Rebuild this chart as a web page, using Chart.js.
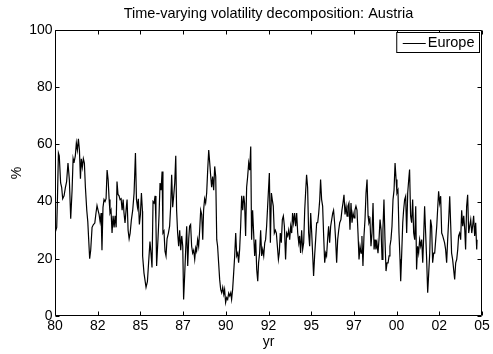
<!DOCTYPE html>
<html>
<head>
<meta charset="utf-8">
<script src="https://cdn.jsdelivr.net/npm/chart.js@4/dist/chart.umd.min.js"></script>
<style>
  html, body { margin: 0; padding: 0; background: #fff; }
  #wrap { width: 493px; height: 354px; }
</style>
</head>
<body>
<div id="wrap"><canvas id="chart" width="493" height="354"></canvas></div>
<script>
// decimal years and volatility share (%)
const dates = [
  1980.00, 1980.10, 1980.14, 1980.20, 1980.25, 1980.33, 1980.39, 1980.45, 1980.53, 1980.61,
  1980.68, 1980.76, 1980.84, 1980.92, 1981.00, 1981.06, 1981.11, 1981.19, 1981.25, 1981.31,
  1981.37, 1981.43, 1981.49, 1981.54, 1981.60, 1981.66, 1981.72, 1981.78, 1981.86, 1981.92,
  1981.97, 1982.03, 1982.09, 1982.17, 1982.25, 1982.33, 1982.40, 1982.46, 1982.52, 1982.58,
  1982.64, 1982.70, 1982.75, 1982.81, 1982.87, 1982.93, 1982.99, 1983.05, 1983.11, 1983.17,
  1983.22, 1983.28, 1983.34, 1983.40, 1983.46, 1983.52, 1983.58, 1983.63, 1983.69, 1983.75,
  1983.81, 1983.87, 1983.93, 1983.99, 1984.04, 1984.10, 1984.16, 1984.22, 1984.28, 1984.34,
  1984.40, 1984.47, 1984.55, 1984.63, 1984.71, 1984.77, 1984.83, 1984.88, 1984.94, 1985.00,
  1985.06, 1985.12,
  1985.13, 1985.21, 1985.33, 1985.41, 1985.48, 1985.56, 1985.62, 1985.68, 1985.74, 1985.80,
  1985.86, 1985.91, 1985.95, 1986.03, 1986.09, 1986.15, 1986.21, 1986.27, 1986.32, 1986.38,
  1986.44, 1986.50, 1986.56, 1986.64, 1986.71, 1986.77, 1986.83, 1986.89, 1986.95, 1987.01,
  1987.07, 1987.12, 1987.18, 1987.24, 1987.30, 1987.36, 1987.42, 1987.48, 1987.53, 1987.59,
  1987.65, 1987.71, 1987.77, 1987.83, 1987.88, 1987.94, 1988.00, 1988.06, 1988.12, 1988.18,
  1988.24, 1988.29, 1988.35, 1988.41, 1988.47, 1988.53, 1988.59, 1988.65, 1988.70, 1988.76,
  1988.82, 1988.88, 1988.94, 1989.00, 1989.06, 1989.11, 1989.17, 1989.23, 1989.29, 1989.35,
  1989.41, 1989.47, 1989.52, 1989.58, 1989.64, 1989.70, 1989.76, 1989.82, 1989.88, 1989.93,
  1989.99, 1990.05, 1990.11, 1990.17, 1990.23, 1990.29, 1990.34, 1990.40, 1990.46, 1990.52,
  1990.58, 1990.64, 1990.70, 1990.75, 1990.81, 1990.87,
  1990.93, 1990.99, 1991.05, 1991.10, 1991.16, 1991.22, 1991.28, 1991.34, 1991.40, 1991.46,
  1991.51, 1991.57, 1991.63, 1991.69, 1991.75, 1991.81, 1991.87, 1991.92, 1991.98, 1992.04,
  1992.10, 1992.16, 1992.22, 1992.28, 1992.33, 1992.39, 1992.47, 1992.55, 1992.61, 1992.67,
  1992.72, 1992.78, 1992.84, 1992.90, 1992.96, 1993.02, 1993.08, 1993.13, 1993.19, 1993.25,
  1993.31, 1993.37, 1993.43, 1993.50, 1993.56, 1993.62, 1993.68, 1993.74, 1993.80, 1993.86,
  1993.91, 1993.97, 1994.03, 1994.09, 1994.15, 1994.21, 1994.27, 1994.32, 1994.38, 1994.44,
  1994.50, 1994.56, 1994.62, 1994.68, 1994.73, 1994.79, 1994.85, 1994.91, 1994.97, 1995.03,
  1995.09, 1995.14, 1995.20, 1995.26, 1995.32, 1995.38, 1995.44, 1995.50, 1995.55, 1995.61,
  1995.67, 1995.73, 1995.79, 1995.85, 1995.90, 1995.96, 1996.02, 1996.08, 1996.14, 1996.20,
  1996.26, 1996.31, 1996.37, 1996.43, 1996.49, 1996.55, 1996.61, 1996.67,
  1996.74, 1996.80, 1996.86, 1996.92, 1996.98, 1997.04, 1997.10, 1997.15, 1997.21, 1997.27,
  1997.33, 1997.39, 1997.45, 1997.51, 1997.56, 1997.62, 1997.68, 1997.74, 1997.80, 1997.86,
  1997.92, 1997.97, 1998.03, 1998.09, 1998.15, 1998.21, 1998.27, 1998.33, 1998.38, 1998.44,
  1998.50, 1998.56, 1998.62, 1998.68, 1998.74, 1998.79, 1998.85, 1998.91, 1998.97, 1999.03,
  1999.09, 1999.15, 1999.20, 1999.26, 1999.32, 1999.38, 1999.44, 1999.50, 1999.56, 1999.61,
  1999.67, 1999.73, 1999.79, 1999.85, 1999.91, 1999.97, 2000.02, 2000.08, 2000.14, 2000.20,
  2000.24, 2000.30, 2000.36, 2000.41, 2000.47, 2000.53, 2000.59, 2000.65, 2000.71, 2000.76,
  2000.82, 2000.88, 2000.94, 2001.00, 2001.06, 2001.12, 2001.17, 2001.23, 2001.29, 2001.35,
  2001.41, 2001.47, 2001.53, 2001.58, 2001.64, 2001.70, 2001.76, 2001.82, 2001.88, 2001.94,
  2001.99, 2002.05, 2002.11, 2002.17, 2002.23, 2002.29, 2002.35, 2002.40, 2002.46, 2002.52,
  2002.58, 2002.64, 2002.70, 2002.76, 2002.81, 2002.87, 2002.93, 2002.99, 2003.05, 2003.11,
  2003.17, 2003.22, 2003.28, 2003.34, 2003.40, 2003.46, 2003.52, 2003.58, 2003.63, 2003.69,
  2003.75, 2003.81, 2003.87, 2003.93, 2003.99, 2004.04, 2004.10, 2004.16, 2004.22, 2004.28,
  2004.34, 2004.40, 2004.45, 2004.51, 2004.57, 2004.63, 2004.69, 2004.71
];

const europe = [
  29, 31, 40, 57, 56, 46.5, 45, 41, 42, 45,
  47, 53.5, 47.7, 34, 44, 55, 53.5, 56, 60.5, 58,
  62, 58, 48, 55, 52, 55, 53.5, 45, 37, 33,
  27, 20, 23, 31, 32, 32.5, 36, 38.6, 37, 35.5,
  33, 36, 23, 38, 40.7, 40, 41, 51, 47.7, 40.7,
  36, 37, 29, 35, 31, 35, 31, 47, 42.5, 42,
  40.7, 41, 37, 40.7, 36, 32.5, 37, 40.7, 30, 27,
  29, 33.5, 37, 43, 57, 40.7, 38, 41, 32, 35.5,
  43, 36.6,
  21, 15, 10, 12, 18.6, 26, 22, 17, 40, 39.5,
  42, 32.5, 17.5, 27, 35, 46.5, 44, 50.5, 29, 29.7,
  22.7, 21, 27, 29, 31.4, 38, 49.4, 38, 42, 46.5,
  56, 37, 29, 24.4, 30, 23, 28, 24.4, 5.8, 14,
  23, 31.4, 17.5, 27, 31.4, 32, 24.4, 22, 23, 19.8,
  23.8, 22.7, 26.7, 24.4, 30, 37, 35.5, 26.7, 37, 41,
  39.5, 43, 51, 58, 53.5, 49.4, 45, 48.8, 44, 52.3,
  48.8, 26.7, 24.4, 18.6, 12.8, 9.3, 8.1, 10, 7.6, 9.3,
  4.7, 6.4, 5.8, 8, 7, 8.1, 5.8, 9.3, 15, 21,
  29, 21, 22, 18.6, 23.3, 31.4,
  42, 37, 42, 39.5, 28, 45, 48.8, 53.5, 51, 59.3,
  26.7, 37, 29, 21, 26.7, 16.3, 12.2, 18.6, 22, 30,
  21, 23.3, 21, 25.6, 26.7, 31.4, 40.7, 50, 25.6, 43,
  40.7, 38.4, 29, 30, 29, 24.4, 19.8, 22, 29, 25.6,
  33.7, 35, 31.4, 19.8, 29, 28, 30, 26.7, 31.4, 29,
  36, 32.6, 36, 31.4, 36, 29, 25.6, 28, 22, 30,
  23.3, 25.6, 37, 44, 49.4, 45, 29, 24.4, 36, 29,
  21, 14, 21, 26.7, 32.6, 32.6, 36, 40.7, 47.7, 40.7,
  38.4, 28, 18.6, 22, 21, 26.7, 31.4, 25.6, 31.4, 33.7,
  36, 37, 32.6, 26.7, 18.6, 26.7, 30, 32.6,
  33.7, 37, 39.5, 42.4, 35.5, 38.4, 34.9, 38.4, 39.5, 30.2,
  39.5, 32.6, 36, 34.3, 37, 38.4, 37, 29, 19.8, 24.4,
  22, 28, 17.5, 28, 33.7, 43, 47.7, 35, 32.6, 33.7,
  24.4, 29, 39.5, 23.3, 26.7, 23.3, 25.6, 22, 26.7, 33.7,
  30.2, 19.8, 30.2, 40.7, 26.7, 15.7, 18.6, 18.6, 21, 24.4,
  26.7, 31.4, 40.7, 44, 53.5, 47.7, 43, 44, 29, 19.8,
  12.2, 22, 32.6, 37, 40.7, 41.9, 29, 43, 47.7, 51.2,
  35, 32.6, 40.7, 29, 26.7, 38.4, 16.3, 24.4, 22, 26.7,
  24.4, 26.7, 18.6, 26.7, 38.4, 29, 19.8, 8.1, 15, 22,
  33.7, 31.4, 18.6, 22, 22, 26.7, 31.4, 37, 43.6, 39.5,
  41.9, 29, 28, 26.7, 25.6, 23.3, 18.6, 26.7, 33.7, 41.9,
  31.4, 22, 19.8, 16.3, 12.8, 18.6, 19.8, 23.3, 28, 29,
  26.7, 37, 31.4, 35, 30.2, 23.3, 38.4, 42.4, 29, 31.4,
  33.7, 29, 31.4, 35, 28, 32.6, 23.3, 26.7
];

const xTickValues = [1980, 1982.5, 1985, 1987.5, 1990, 1992.5, 1995, 1997.5, 2000, 2002.5, 2005];
const xTickLabels = ['80', '82', '85', '87', '90', '92', '95', '97', '00', '02', '05'];
const yTickValues = [0, 20, 40, 60, 80, 100];

const FONT = "'Liberation Sans', Arial, Helvetica, sans-serif";

// MATLAB style box, inward ticks and legend
const matlabFrame = {
    id: 'matlabFrame',
    afterDatasetsDraw(chart) {
        const { ctx, chartArea: a, scales: { x, y } } = chart;
        const L = Math.round(a.left) + 0.5;
        const R = Math.round(a.right) - 0.5;
        const T = Math.round(a.top) + 0.5;
        const B = Math.round(a.bottom) - 0.5;
        const tl = 4;
        ctx.save();
        ctx.strokeStyle = '#000';
        ctx.lineWidth = 1;
        ctx.beginPath();
        ctx.rect(L, T, R - L, B - T);
        xTickValues.forEach(v => {
            const px = Math.round(x.getPixelForValue(v)) + 0.5;
            ctx.moveTo(px, B); ctx.lineTo(px, B - tl);
            ctx.moveTo(px, T); ctx.lineTo(px, T + tl);
        });
        yTickValues.forEach(v => {
            const py = Math.round(y.getPixelForValue(v)) + 0.5;
            ctx.moveTo(L, py); ctx.lineTo(L + tl, py);
            ctx.moveTo(R, py); ctx.lineTo(R - tl, py);
        });
        ctx.stroke();

        // legend box
        const label = chart.data.datasets[0].label;
        ctx.font = '14.5px ' + FONT;
        const tw = ctx.measureText(label).width;
        const bx1 = R - 2, by0 = T + 2;
        const bx0 = bx1 - (tw + 36);
        const by1 = by0 + 20;
        ctx.fillStyle = '#fff';
        ctx.fillRect(bx0, by0, bx1 - bx0, by1 - by0);
        ctx.strokeRect(bx0, by0, bx1 - bx0, by1 - by0);
        const ly = Math.round((by0 + by1) / 2) + 0.5;
        ctx.beginPath();
        ctx.moveTo(bx0 + 6, ly);
        ctx.lineTo(bx0 + 29, ly);
        ctx.stroke();
        ctx.fillStyle = '#000';
        ctx.textBaseline = 'middle';
        ctx.textAlign = 'left';
        ctx.fillText(label, bx0 + 31, (by0 + by1) / 2 + 0.5);
        ctx.restore();
    }
};

const points = dates.map((d, i) => ({ x: d, y: europe[i] }));

new Chart(document.getElementById('chart'), {
    type: 'line',
    data: {
        datasets: [{
            label: 'Europe',
            data: points,
            borderColor: '#000',
            borderWidth: 1.2,
            pointRadius: 0,
            tension: 0,
            fill: false
        }]
    },
    options: {
        responsive: false,
        animation: false,
        devicePixelRatio: 1,
        layout: { padding: { left: 0, right: 11, top: 0, bottom: 0 } },
        plugins: {
            legend: { display: false },
            tooltip: { enabled: false },
            title: {
                display: true,
                fullSize: false,
                text: 'Time-varying volatility decomposition: Austria',
                color: '#000',
                font: { family: FONT, size: 14.5, weight: 'normal' },
                padding: { top: 5, bottom: 7.6 }
            }
        },
        scales: {
            x: {
                type: 'linear',
                min: 1980,
                max: 2005,
                afterBuildTicks: (scale) => {
                    scale.ticks = xTickValues.map(v => ({ value: v }));
                },
                afterFit: (scale) => { scale.height = 38; },
                grid: { display: false, drawTicks: false },
                border: { display: false },
                ticks: {
                    color: '#000',
                    padding: 2,
                    maxRotation: 0,
                    autoSkip: false,
                    font: { family: FONT, size: 14 },
                    callback: (v) => xTickLabels[xTickValues.indexOf(v)]
                },
                title: {
                    display: true,
                    text: 'yr',
                    color: '#000',
                    font: { family: FONT, size: 14 },
                    padding: { top: 3.6, bottom: 3.6 }
                }
            },
            y: {
                min: 0,
                max: 100,
                afterBuildTicks: (scale) => {
                    scale.ticks = yTickValues.map(v => ({ value: v }));
                },
                afterFit: (scale) => { scale.width = 55; },
                grid: { display: false, drawTicks: false },
                border: { display: false },
                ticks: {
                    color: '#000',
                    padding: 2.5,
                    font: { family: FONT, size: 14 }
                },
                title: {
                    display: true,
                    text: '%',
                    color: '#000',
                    font: { family: FONT, size: 14 },
                    padding: { top: 8.6, bottom: 8.6 }
                }
            }
        }
    },
    plugins: [matlabFrame]
});
</script>
</body>
</html>
